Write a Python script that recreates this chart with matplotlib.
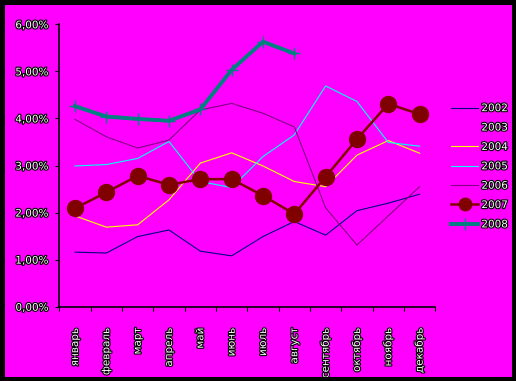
import numpy as np
import matplotlib
matplotlib.use("Agg")
import matplotlib.pyplot as plt
import matplotlib.patheffects as pe
from matplotlib.patches import Rectangle
from matplotlib.ticker import FuncFormatter, MultipleLocator

# months and yearly values (percent)
months = ["январь", "февраль", "март", "апрель", "май", "июнь",
          "июль", "август", "сентябрь", "октябрь", "ноябрь", "декабрь"]

y2002 = [1.16, 1.14, 1.49, 1.63, 1.18, 1.08, 1.49, 1.81, 1.52, 2.04, 2.20, 2.39]
y2004 = [1.93, 1.69, 1.74, 2.27, 3.05, 3.27, 2.99, 2.66, 2.55, 3.22, 3.53, 3.26]
y2005 = [2.99, 3.02, 3.15, 3.51, 2.66, 2.53, 3.19, 3.65, 4.69, 4.36, 3.49, 3.41]
y2006 = [3.98, 3.61, 3.37, 3.54, 4.18, 4.32, 4.11, 3.82, 2.10, 1.31, 1.93, 2.55]
y2007 = [2.09, 2.43, 2.78, 2.59, 2.71, 2.71, 2.36, 1.97, 2.76, 3.56, 4.31, 4.09]
y2008 = [4.26, 4.04, 3.99, 3.95, 4.19, 5.03, 5.63, 5.38]

bg = "#FF00FF"
outline = [pe.withStroke(linewidth=1.6, foreground="black")]

fig = plt.figure(figsize=(5.16, 3.81), dpi=100, facecolor=bg)
# black frame round the whole picture
fig.patches.append(Rectangle((0, 0), 1, 1, transform=fig.transFigure,
                             fill=False, edgecolor="black", lw=6.5, zorder=10))

ax = fig.add_axes([59.3 / 516, 1 - 306.7 / 381, 376 / 516, 282.4 / 381])
ax.set_facecolor(bg)

x = np.arange(len(months))
ax.plot(x, y2002, color="#000080", lw=0.8, label="2002")
ax.plot([], [], color=bg, lw=0.8, label="2003")
ax.plot(x, y2004, color="#FFFF00", lw=0.8, label="2004")
ax.plot(x, y2005, color="#00FFFF", lw=0.8, label="2005")
ax.plot(x, y2006, color="#800080", lw=0.8, label="2006")
ax.plot(x, y2007, color="#800000", lw=1.8, marker="o", ms=11.5, label="2007")
ax.plot(x[:len(y2008)], y2008, color="#008080", lw=2.8, marker="+", ms=9,
        mew=1, label="2008")

ax.set_xlim(-0.5, 11.5)
ax.set_ylim(0, 6)
ax.yaxis.set_major_locator(MultipleLocator(1))
ax.yaxis.set_major_formatter(FuncFormatter(lambda v, p: f"{v:.2f}%".replace(".", ",")))
ax.set_xticks(np.arange(-0.5, 12, 1), minor=False)
ax.set_xticklabels([])
ax.set_xticks(x, minor=True)
ax.set_xticklabels(months, minor=True, rotation=90, va="top")
ax.tick_params(axis="x", which="minor", length=0, pad=15)
ax.tick_params(axis="x", which="major", length=3, direction="out")
ax.tick_params(axis="y", length=3, direction="out", pad=5)

for lab in ax.get_yticklabels() + ax.get_xticklabels(minor=True):
    lab.set_color("white")
    lab.set_fontsize(7.5)
    lab.set_path_effects(outline)

for s in ["top", "right"]:
    ax.spines[s].set_visible(False)
for s in ["left", "bottom"]:
    ax.spines[s].set_linewidth(1.2)

leg = ax.legend(loc="upper left", bbox_to_anchor=(447 / 516, 1 - 99 / 381),
                bbox_transform=fig.transFigure, frameon=False, fontsize=7.5,
                handlelength=2.6, handletextpad=0.3, labelspacing=0.9,
                borderaxespad=0)
for t in leg.get_texts():
    t.set_color("white")
    t.set_path_effects(outline)
for h in leg.legend_handles:
    if h.get_label() == "2007":
        h.set_markersize(9)

fig.savefig("out.png", dpi=100, facecolor=bg)
